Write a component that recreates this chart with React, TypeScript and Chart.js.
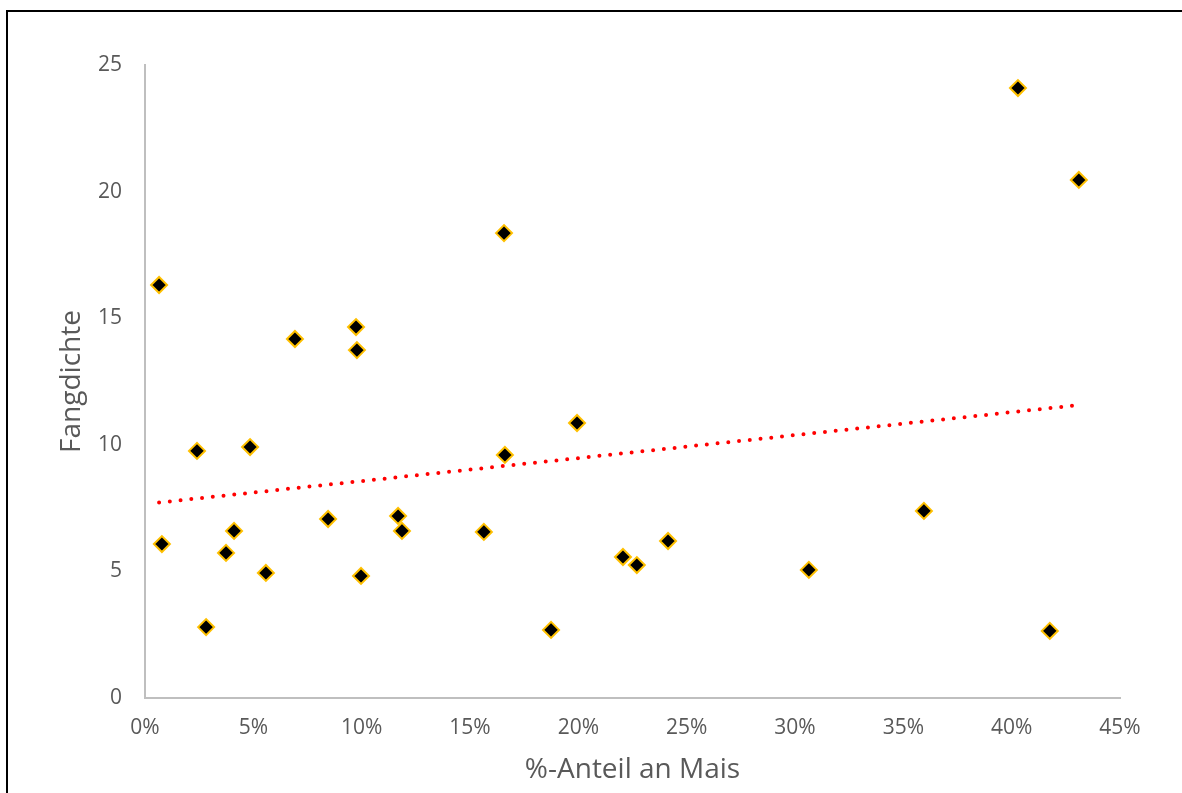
import React, { useEffect, useRef } from "react";
import { Chart, registerables } from "chart.js";

Chart.register(...registerables);

// % share of maize (x) and catch density (y)
const maisAnteil = [
  0.65, 0.78, 2.4, 2.82, 3.74, 4.11, 4.85, 5.58, 6.92, 8.45, 9.74, 9.78, 9.97, 11.68,
  11.86, 15.64, 16.57, 16.61, 18.74, 19.94, 22.06, 22.7, 24.14, 30.64, 35.95, 40.29,
  41.76, 43.1,
];
const fangdichte = [
  16.31, 6.08, 9.76, 2.8, 5.73, 6.6, 9.91, 4.94, 14.18, 7.07, 14.65, 13.74, 4.82, 7.19,
  6.6, 6.56, 18.36, 9.6, 2.69, 10.86, 5.57, 5.25, 6.2, 5.06, 7.39, 24.09, 2.65, 20.46,
];
// linear trend line end points
const trendX = [0.65, 43.1];
const trendY = [7.72, 11.57];

const xTitle = "%-Anteil an Mais";
const yTitle = "Fangdichte";

export default function App() {
  const ref = useRef<HTMLCanvasElement | null>(null);

  useEffect(() => {
    if (!ref.current) return;
    const font = "'Open Sans', 'DejaVu Sans', sans-serif";
    const chart = new Chart(ref.current, {
      type: "scatter",
      data: {
        datasets: [
          {
            type: "line",
            label: "Trend",
            data: trendX.map((x, i) => ({ x, y: trendY[i] })),
            borderColor: "#FF0000",
            borderWidth: 4,
            borderDash: [0, 10.8],
            borderCapStyle: "round",
            pointRadius: 0,
            fill: false,
            order: -1,
          } as any,
          {
            label: "Fangdichte",
            data: maisAnteil.map((x, i) => ({ x, y: fangdichte[i] })),
            pointStyle: "rectRot",
            pointRadius: 8,
            pointBackgroundColor: "#000000",
            pointBorderColor: "#FFC000",
            pointBorderWidth: 2,
            showLine: false,
            order: 1,
          },
        ],
      },
      options: {
        responsive: false,
        animation: false,
        layout: { padding: { left: 0, top: 65, right: 62, bottom: 0 } },
        plugins: { legend: { display: false }, tooltip: { enabled: false } },
        scales: {
          x: {
            type: "linear",
            min: 0,
            max: 45,
            afterFit: (s: any) => {
              s.height = 95;
            },
            ticks: {
              stepSize: 5,
              color: "#595959",
              font: { family: font, size: 21 },
              padding: 17,
              callback: (v: any) => v + "%",
            },
            grid: { display: false, drawTicks: false },
            border: { display: true, color: "#BFBFBF", width: 2 },
            title: {
              display: true,
              text: xTitle,
              color: "#595959",
              font: { family: font, size: 28 },
              padding: { top: 0, bottom: 6.5 },
            },
          },
          y: {
            type: "linear",
            min: 0,
            max: 25,
            afterFit: (s: any) => {
              s.width = 145;
            },
            ticks: {
              stepSize: 5,
              color: "#595959",
              font: { family: font, size: 21 },
              padding: 23,
            },
            grid: { display: false, drawTicks: false },
            border: { display: true, color: "#BFBFBF", width: 2 },
            title: {
              display: true,
              text: yTitle,
              color: "#595959",
              font: { family: font, size: 28 },
              padding: { top: 55.5, bottom: 0 },
            },
          },
        },
      },
    });
    return () => chart.destroy();
  }, []);

  return (
    <div style={{ position: "fixed", left: 0, top: 0, width: 1182, height: 793, background: "#fff" }}>
      <div
        style={{
          position: "absolute",
          left: 6,
          top: 10,
          right: -20,
          bottom: -20,
          borderLeft: "2px solid #000",
          borderTop: "2px solid #000",
        }}
      />
      <canvas
        ref={ref}
        width={1182}
        height={793}
        style={{ position: "absolute", left: 0, top: 0, display: "block" }}
      />
    </div>
  );
}
